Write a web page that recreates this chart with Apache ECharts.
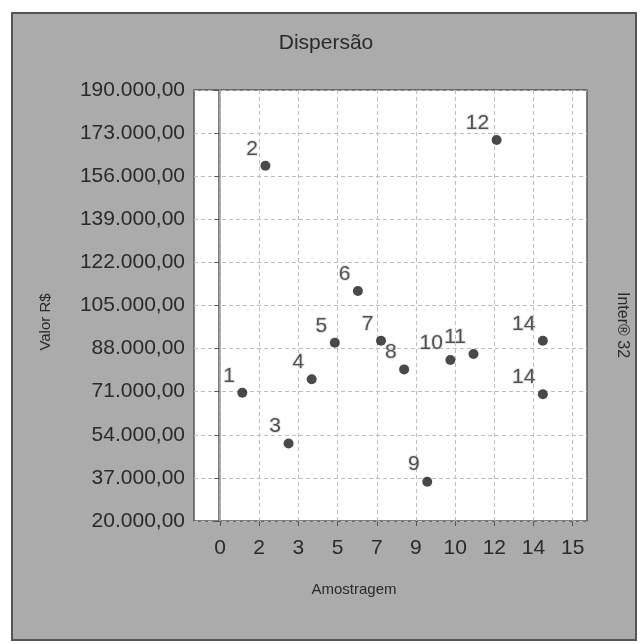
<!DOCTYPE html>
<html>
<head>
<meta charset="utf-8">
<script src="https://cdn.jsdelivr.net/npm/echarts@6/dist/echarts.min.js"></script>
<style>
html,body{margin:0;padding:0;background:#fff;}
#chart{width:644px;height:644px;}
</style>
</head>
<body>
<div id="chart"></div>
<script>
// ---- data ----
const sampleIndex = [1, 2, 3, 4, 5, 6, 7, 8, 9, 10, 11, 12, 14, 14];
const sampleValues = [70600, 160100, 50600, 75900, 90300, 110700, 91100, 79800, 35500, 83500, 85900, 170300, 91100, 70000];
const pointLabels = ['1', '2', '3', '4', '5', '6', '7', '8', '9', '10', '11', '12', '14', '14'];
const xTickLabels = ['0', '2', '3', '5', '7', '9', '10', '12', '14', '15'];
const yMin = 20000, yMax = 190000, yStep = 17000;
const titleText = 'Dispersão';
const xName = 'Amostragem';
const yName = 'Valor R$';
const sideText = 'Inter® 32';

function fmtBR(v) {
  const s = Math.round(v).toString();
  const withDots = s.replace(/\B(?=(\d{3})+(?!\d))/g, '.');
  return withDots + ',00';
}

const points = sampleIndex.map((x, i) => ({ value: [x, sampleValues[i]], name: pointLabels[i] }));

const FONT = '"Liberation Sans", Arial, sans-serif';
const NARROW = '"Liberation Sans Narrow", "Liberation Sans", Arial, sans-serif';
const TXT = '#2a2a2a';

const chart = echarts.init(document.getElementById('chart'), null, { renderer: 'canvas' });
chart.setOption({
  backgroundColor: '#ffffff',
  animation: false,
  graphic: [
    { type: 'rect', z: -10, shape: { x: 12, y: 13, width: 624, height: 627 },
      style: { fill: '#ababab', stroke: '#555', lineWidth: 2 } },
    { type: 'text', z: 10, x: 46, y: 322, rotation: Math.PI / 2,
      style: { text: yName, font: '15px ' + NARROW, fill: TXT, align: 'center', verticalAlign: 'middle' } },
    { type: 'text', z: 10, x: 622, y: 325, rotation: -Math.PI / 2,
      style: { text: sideText, font: '16px ' + NARROW, fill: TXT, align: 'center', verticalAlign: 'middle' } },
    { type: 'text', z: 10, x: 354, y: 590,
      style: { text: xName, font: '15px ' + NARROW, fill: TXT, align: 'center', verticalAlign: 'middle' } },
    { type: 'text', z: 10, x: 326, y: 43,
      style: { text: titleText, font: '21px ' + FONT, fill: TXT, align: 'center', verticalAlign: 'middle' } }
  ],
  grid: [
    { left: 194, right: 57, top: 90, bottom: 123, show: true, backgroundColor: '#ffffff',
      borderColor: '#555', borderWidth: 1.5, containLabel: false },
    { left: 220, right: 71.3, top: 90, bottom: 123, show: false, containLabel: false }
  ],
  xAxis: [
    { gridIndex: 0, type: 'value', min: -1.09, max: 15.91, show: false },
    { gridIndex: 1, type: 'value', min: 0, max: 9, interval: 1,
      axisLine: { show: false },
      axisTick: { show: true, length: 5, lineStyle: { color: '#555' } },
      axisLabel: { margin: 17, fontSize: 21, fontFamily: FONT, color: TXT,
        formatter: (v) => xTickLabels[Math.round(v)] },
      splitLine: { show: true, lineStyle: { color: '#bdbdbd', type: [4, 3], width: 1 } } }
  ],
  yAxis: [
    { gridIndex: 0, type: 'value', min: yMin, max: yMax, interval: yStep,
      axisLine: { show: true, lineStyle: { color: '#555', width: 1.5 } },
      axisTick: { show: true, length: 5, lineStyle: { color: '#555' } },
      axisLabel: { margin: 9, fontSize: 21, fontFamily: FONT, color: TXT, formatter: fmtBR },
      splitLine: { show: true, lineStyle: { color: '#bdbdbd', type: [4, 3], width: 1 } } },
    { gridIndex: 1, type: 'value', min: yMin, max: yMax, interval: yStep,
      axisLine: { show: true, lineStyle: { color: '#a8a8a8', width: 1.5 } },
      axisTick: { show: false }, axisLabel: { show: false }, splitLine: { show: false } }
  ],
  series: [
    { type: 'scatter', xAxisIndex: 0, yAxisIndex: 0, symbol: 'circle', symbolSize: 10,
      itemStyle: { color: '#1c1c1c' },
      data: points,
      label: { show: true, position: 'left', distance: 2.5, offset: [0, -17],
        formatter: (p) => p.name, fontSize: 21, fontFamily: FONT, color: TXT,
        textBorderColor: 'rgba(200,200,200,0.6)', textBorderWidth: 2 } }
  ]
});
</script>
</body>
</html>
